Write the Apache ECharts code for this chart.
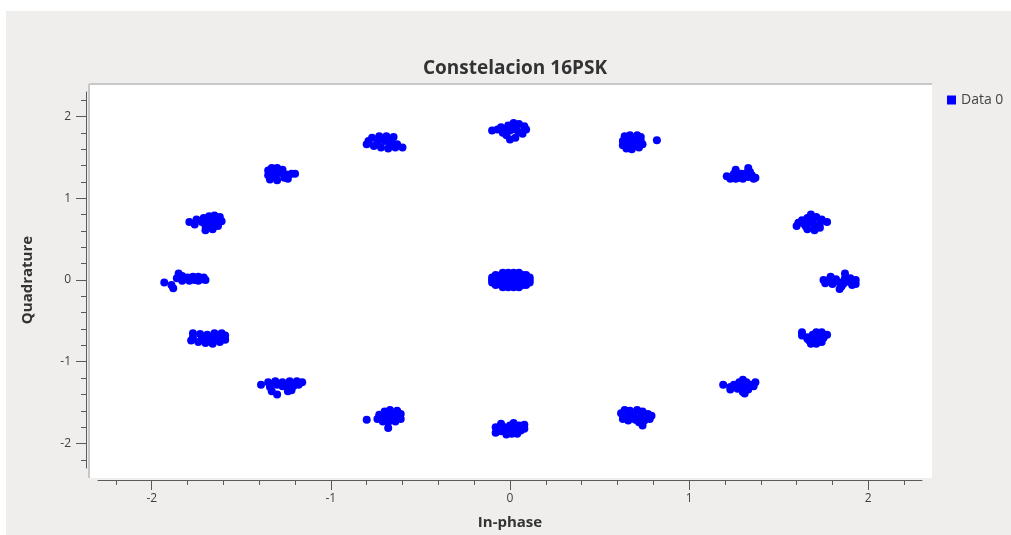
<!DOCTYPE html>
<html>
<head>
<meta charset="utf-8">
<script src="https://cdn.jsdelivr.net/npm/echarts@6/dist/echarts.min.js"></script>
<style>
html,body{margin:0;padding:0;background:#ffffff;}
#chart{width:1011px;height:535px;}
</style>
</head>
<body>
<div id="chart"></div>
<script>
// ---- data (In-phase, Quadrature) ----
const chartTitle = 'Constelacion 16PSK';
const xName = 'In-phase';
const yName = 'Quadrature';
const seriesName = 'Data 0';
const majorTicks = [-2, -1, 0, 1, 2];
const minorTicks = [-2.2, -1.8, -1.6, -1.4, -1.2, -0.8, -0.6, -0.4, -0.2, 0.2, 0.4, 0.6, 0.8, 1.2, 1.4, 1.6, 1.8, 2.2];

const symE = [[1.75,0.00],[1.76,-0.04],[1.79,0.04],[1.80,-0.05],[1.82,0.01],[1.84,-0.03],[1.85,-0.08],[1.84,-0.11],[1.87,0.02],[1.87,0.08],[1.89,-0.02],[1.91,-0.06],[1.93,0.00],[1.93,-0.05],[1.81,-0.02],[1.78,0.00],[1.86,-0.05],[1.90,0.02]];
const symENE = [[1.60,0.66],[1.61,0.70],[1.63,0.73],[1.66,0.76],[1.68,0.80],[1.71,0.77],[1.74,0.74],[1.77,0.71],[1.73,0.69],[1.68,0.70],[1.65,0.66],[1.66,0.62],[1.70,0.61],[1.73,0.64],[1.70,0.67],[1.64,0.69],[1.69,0.74]];
const symNE = [[1.21,1.27],[1.23,1.24],[1.26,1.24],[1.25,1.30],[1.26,1.35],[1.29,1.30],[1.31,1.28],[1.33,1.37],[1.34,1.32],[1.33,1.26],[1.36,1.24],[1.37,1.25],[1.30,1.24],[1.28,1.25],[1.35,1.28],[1.24,1.27],[1.32,1.31]];
const symNNE = [[0.64,1.76],[0.67,1.77],[0.71,1.77],[0.73,1.75],[0.63,1.70],[0.66,1.71],[0.70,1.72],[0.73,1.70],[0.74,1.66],[0.72,1.62],[0.68,1.60],[0.65,1.61],[0.63,1.65],[0.69,1.67],[0.82,1.71],[0.66,1.66],[0.70,1.64]];
const symN = [[-0.10,1.83],[-0.07,1.84],[-0.05,1.87],[-0.04,1.80],[-0.01,1.89],[0.02,1.92],[0.05,1.91],[0.08,1.88],[0.09,1.84],[0.07,1.79],[0.03,1.74],[0.00,1.72],[-0.02,1.77],[0.03,1.84],[0.05,1.81],[0.00,1.83],[0.03,1.88],[-0.02,1.85]];
const symNNW = [[-0.79,1.70],[-0.80,1.66],[-0.77,1.74],[-0.73,1.76],[-0.69,1.76],[-0.65,1.75],[-0.74,1.68],[-0.70,1.70],[-0.66,1.69],[-0.63,1.66],[-0.60,1.62],[-0.72,1.62],[-0.68,1.61],[-0.64,1.62],[-0.76,1.64],[-0.72,1.73],[-0.67,1.65]];
const symNW = [[-1.35,1.34],[-1.33,1.37],[-1.30,1.37],[-1.27,1.35],[-1.35,1.28],[-1.32,1.30],[-1.28,1.31],[-1.34,1.23],[-1.30,1.22],[-1.26,1.25],[-1.25,1.29],[-1.22,1.30],[-1.20,1.30],[-1.24,1.24],[-1.31,1.26],[-1.29,1.34]];
const symWNW = [[-1.79,0.71],[-1.76,0.68],[-1.75,0.74],[-1.71,0.76],[-1.68,0.78],[-1.65,0.79],[-1.62,0.77],[-1.61,0.72],[-1.64,0.70],[-1.68,0.72],[-1.72,0.71],[-1.70,0.66],[-1.66,0.62],[-1.70,0.61],[-1.63,0.66],[-1.67,0.67],[-1.65,0.75]];
const symW = [[-1.93,-0.03],[-1.89,-0.06],[-1.88,-0.10],[-1.86,0.02],[-1.85,0.08],[-1.83,0.05],[-1.80,0.03],[-1.77,0.04],[-1.74,0.04],[-1.71,0.03],[-1.70,0.00],[-1.74,-0.01],[-1.79,-0.01],[-1.83,-0.01],[-1.76,0.00],[-1.82,0.02],[-1.72,0.01]];
const symWSW = [[-1.77,-0.65],[-1.73,-0.66],[-1.69,-0.67],[-1.65,-0.65],[-1.61,-0.65],[-1.59,-0.68],[-1.59,-0.73],[-1.62,-0.76],[-1.66,-0.78],[-1.70,-0.77],[-1.74,-0.76],[-1.78,-0.74],[-1.77,-0.70],[-1.72,-0.71],[-1.66,-0.71],[-1.63,-0.70],[-1.69,-0.73]];
const symSW = [[-1.39,-1.28],[-1.35,-1.25],[-1.31,-1.24],[-1.27,-1.25],[-1.23,-1.24],[-1.19,-1.24],[-1.16,-1.25],[-1.18,-1.28],[-1.24,-1.28],[-1.30,-1.28],[-1.34,-1.31],[-1.33,-1.36],[-1.30,-1.40],[-1.24,-1.36],[-1.22,-1.35],[-1.27,-1.30],[-1.21,-1.30]];
const symSSW = [[-0.80,-1.71],[-0.74,-1.70],[-0.73,-1.65],[-0.70,-1.61],[-0.67,-1.59],[-0.63,-1.60],[-0.61,-1.64],[-0.61,-1.70],[-0.64,-1.73],[-0.68,-1.74],[-0.71,-1.73],[-0.68,-1.81],[-0.66,-1.67],[-0.70,-1.67],[-0.64,-1.66],[-0.67,-1.63],[-0.67,-1.71]];
const symS = [[-0.08,-1.80],[-0.08,-1.87],[-0.05,-1.76],[-0.03,-1.80],[-0.05,-1.85],[-0.02,-1.89],[0.00,-1.78],[0.02,-1.75],[0.03,-1.82],[0.01,-1.88],[0.05,-1.78],[0.06,-1.84],[0.08,-1.77],[0.08,-1.82],[0.04,-1.88],[-0.01,-1.84],[0.03,-1.79]];
const symSSE = [[0.62,-1.63],[0.64,-1.59],[0.67,-1.60],[0.71,-1.59],[0.74,-1.61],[0.77,-1.64],[0.79,-1.66],[0.78,-1.70],[0.75,-1.72],[0.72,-1.74],[0.74,-1.78],[0.70,-1.71],[0.66,-1.72],[0.63,-1.70],[0.69,-1.66],[0.73,-1.67],[0.66,-1.65]];
const symSE = [[1.19,-1.28],[1.23,-1.31],[1.25,-1.28],[1.28,-1.25],[1.30,-1.22],[1.32,-1.25],[1.34,-1.28],[1.37,-1.25],[1.36,-1.30],[1.33,-1.34],[1.30,-1.37],[1.31,-1.39],[1.27,-1.33],[1.23,-1.34],[1.29,-1.30],[1.32,-1.31],[1.26,-1.30]];
const symESE = [[1.63,-0.64],[1.63,-0.68],[1.66,-0.70],[1.69,-0.67],[1.71,-0.64],[1.74,-0.64],[1.77,-0.67],[1.75,-0.71],[1.74,-0.76],[1.71,-0.78],[1.68,-0.78],[1.67,-0.74],[1.71,-0.72],[1.69,-0.73],[1.66,-0.72],[1.72,-0.68],[1.74,-0.70]];
const centerCloud = [
  [-0.04,0.09],[-0.01,0.09],[0.02,0.09],[0.05,0.09],
  [-0.08,0.06],[-0.05,0.06],[-0.02,0.06],[0.01,0.06],[0.04,0.06],[0.07,0.06],[0.09,0.06],
  [-0.10,0.03],[-0.07,0.03],[-0.04,0.03],[-0.01,0.03],[0.02,0.03],[0.05,0.03],[0.08,0.03],[0.11,0.03],
  [-0.10,0.00],[-0.07,0.00],[-0.04,0.00],[-0.01,0.00],[0.02,0.00],[0.05,0.00],[0.08,0.00],[0.11,0.00],
  [-0.10,-0.03],[-0.07,-0.03],[-0.04,-0.03],[-0.01,-0.03],[0.02,-0.03],[0.05,-0.03],[0.08,-0.03],[0.11,-0.03],
  [-0.08,-0.06],[-0.05,-0.06],[-0.02,-0.06],[0.01,-0.06],[0.04,-0.06],[0.07,-0.06],[0.09,-0.06],
  [-0.04,-0.09],[-0.01,-0.09],[0.02,-0.09],[0.05,-0.09]
];

const allPoints = [].concat(symE, symENE, symNE, symNNE, symN, symNNW, symNW, symWNW,
  symW, symWSW, symSW, symSSW, symS, symSSE, symSE, symESE, centerCloud);

const chart = echarts.init(document.getElementById('chart'), null, {renderer: 'canvas'});
const FONT = '"Open Sans", "DejaVu Sans", sans-serif';
const axisColor = '#5a5a5a';
const labelColor = '#404040';

const option = {
  backgroundColor: '#ffffff',
  animation: false,
  graphic: [
    {type: 'rect', z: -10, silent: true, shape: {x: 6, y: 11, width: 1005, height: 524}, style: {fill: '#efeeec'}},
    {type: 'rect', z: -9, silent: true, shape: {x: 90, y: 85, width: 842, height: 393}, style: {fill: '#ffffff'}},
    {type: 'line', z: -8, silent: true, shape: {x1: 89, y1: 84, x2: 932, y2: 84}, style: {stroke: '#c8c8c8', lineWidth: 2}},
    {type: 'line', z: -8, silent: true, shape: {x1: 89, y1: 84, x2: 89, y2: 478}, style: {stroke: '#c8c8c8', lineWidth: 2}}
  ],
  title: {
    text: chartTitle,
    left: 510, top: 54, textAlign: 'center',
    textStyle: {fontFamily: FONT, fontSize: 19, fontWeight: 'bold', color: '#333333'}
  },
  legend: {
    data: [{name: seriesName, icon: 'rect'}],
    left: 942, top: 88, itemWidth: 9, itemHeight: 9, itemGap: 5,
    textStyle: {fontFamily: FONT, fontSize: 14, color: '#444444'}
  },
  grid: {left: 98, right: 89, top: 92, bottom: 64, containLabel: false},
  xAxis: [
    {
      type: 'value', min: -2.3, max: 2.3, position: 'bottom', offset: 12,
      name: xName, nameLocation: 'middle', nameGap: 35,
      nameTextStyle: {fontFamily: FONT, fontSize: 15, fontWeight: 'bold', color: '#333333'},
      axisLine: {show: true, onZero: false, lineStyle: {color: axisColor, width: 1}},
      axisTick: {show: true, length: 10, customValues: majorTicks, lineStyle: {color: axisColor}},
      axisLabel: {show: true, customValues: majorTicks, margin: 13, fontFamily: FONT, fontSize: 12, color: labelColor},
      splitLine: {show: false}
    },
    {
      type: 'value', min: -2.3, max: 2.3, position: 'bottom', offset: 12,
      axisLine: {show: false, onZero: false},
      axisTick: {show: true, length: 5, customValues: minorTicks, lineStyle: {color: axisColor}},
      axisLabel: {show: false},
      splitLine: {show: false}
    }
  ],
  yAxis: [
    {
      type: 'value', min: -2.3, max: 2.3, position: 'left', offset: 12,
      name: yName, nameLocation: 'middle', nameGap: 51, nameRotate: 90,
      nameTextStyle: {fontFamily: FONT, fontSize: 15, fontWeight: 'bold', color: '#333333'},
      axisLine: {show: true, onZero: false, lineStyle: {color: axisColor, width: 1}},
      axisTick: {show: true, length: 10, customValues: majorTicks, lineStyle: {color: axisColor}},
      axisLabel: {show: true, customValues: majorTicks, margin: 15, fontFamily: FONT, fontSize: 12, color: labelColor},
      splitLine: {show: false}
    },
    {
      type: 'value', min: -2.3, max: 2.3, position: 'left', offset: 12,
      axisLine: {show: false, onZero: false},
      axisTick: {show: true, length: 5, customValues: minorTicks, lineStyle: {color: axisColor}},
      axisLabel: {show: false},
      splitLine: {show: false}
    }
  ],
  series: [{
    name: seriesName,
    type: 'scatter',
    xAxisIndex: 0, yAxisIndex: 0,
    symbol: 'circle', symbolSize: 8,
    itemStyle: {color: '#0000ff', opacity: 1},
    data: allPoints
  }]
};
chart.setOption(option);
</script>
</body>
</html>
